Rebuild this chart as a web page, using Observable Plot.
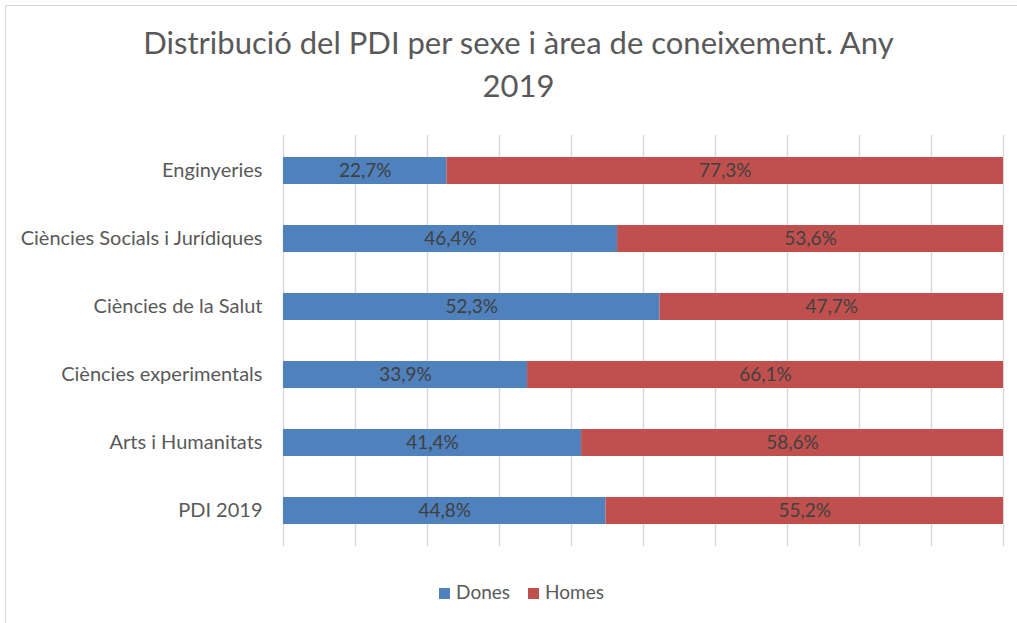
<!DOCTYPE html>
<html>
<head>
<meta charset="utf-8">
<script src="https://cdn.jsdelivr.net/npm/d3@7"></script>
<script src="https://cdn.jsdelivr.net/npm/@observablehq/plot@0.6"></script>
<style>
  body { margin: 0; background: #fff; }
  #wrap { position: relative; width: 1017px; height: 623px; font-family: Lato, "Open Sans", sans-serif; color: #595959; overflow: hidden; }
  #frame { position: absolute; left: 5px; top: 5px; width: 1040px; height: 640px; border-left: 1.5px solid #d9d9d9; border-top: 1.5px solid #d9d9d9; box-sizing: border-box; }
  #title { position: absolute; left: 10px; width: 1017px; top: 21px; text-align: center; font-size: 31px; line-height: 43px; color: #595959; }
  #chart { position: absolute; left: 0; top: 120px; }
  #legend { position: absolute; left: 13px; width: 1017px; top: 580px; text-align: center; font-size: 19px; color: #595959; }
  #legend span.item { display: inline-block; margin: 0 9px; }
  #legend span.sw { display: inline-block; width: 11px; height: 11px; margin-right: 6px; vertical-align: 0px; }
</style>
</head>
<body>
<div id="wrap">
  <div id="frame"></div>
  <div id="title">Distribució del PDI per sexe i àrea de coneixement. Any<br>2019</div>
  <div id="chart"></div>
  <div id="legend"></div>
</div>
<script>
const areas = ["Enginyeries", "Ciències Socials i Jurídiques", "Ciències de la Salut", "Ciències experimentals", "Arts i Humanitats", "PDI 2019"];
const series = ["Dones", "Homes"];
const dones = [22.7, 46.4, 52.3, 33.9, 41.4, 44.8];
const homes = [77.3, 53.6, 47.7, 66.1, 58.6, 55.2];
const colors = ["#4F81BD", "#C0504D"];

const data = [];
areas.forEach((a, i) => {
  data.push({area: a, sex: "Dones", value: dones[i]});
  data.push({area: a, sex: "Homes", value: homes[i]});
});
const fmt = v => v.toFixed(1).replace(".", ",") + "%";

const plot = Plot.plot({
  width: 1017,
  height: 440,
  marginTop: 15,
  marginBottom: 14,
  marginLeft: 283,
  marginRight: 14,
  style: {fontFamily: "Lato, 'Open Sans', sans-serif", fontSize: "20px", color: "#595959", background: "transparent"},
  x: {domain: [0, 100], axis: null},
  y: {domain: areas, paddingInner: 0.6, paddingOuter: 0.3, label: null, tickSize: 0, tickPadding: 21},
  color: {domain: series, range: colors},
  marks: [
    Plot.gridX({ticks: d3.range(0, 101, 10), stroke: "#d9d9d9", strokeOpacity: 1, strokeWidth: 1.5}),
    Plot.barX(data, Plot.stackX({x: "value", y: "area", fill: "sex", order: series})),
    Plot.text(data, Plot.stackX({x: "value", y: "area", z: "sex", order: series, text: d => fmt(d.value), fill: "#404040", fontSize: 19})),
    Plot.axisY({tickSize: 0, tickPadding: 21, fontSize: 20, fill: "#595959", label: null})
  ]
});
document.getElementById("chart").appendChild(plot);

const legend = document.getElementById("legend");
series.forEach((s, i) => {
  const item = document.createElement("span");
  item.className = "item";
  const sw = document.createElement("span");
  sw.className = "sw";
  sw.style.background = colors[i];
  item.appendChild(sw);
  item.appendChild(document.createTextNode(s));
  legend.appendChild(item);
});
</script>
</body>
</html>
